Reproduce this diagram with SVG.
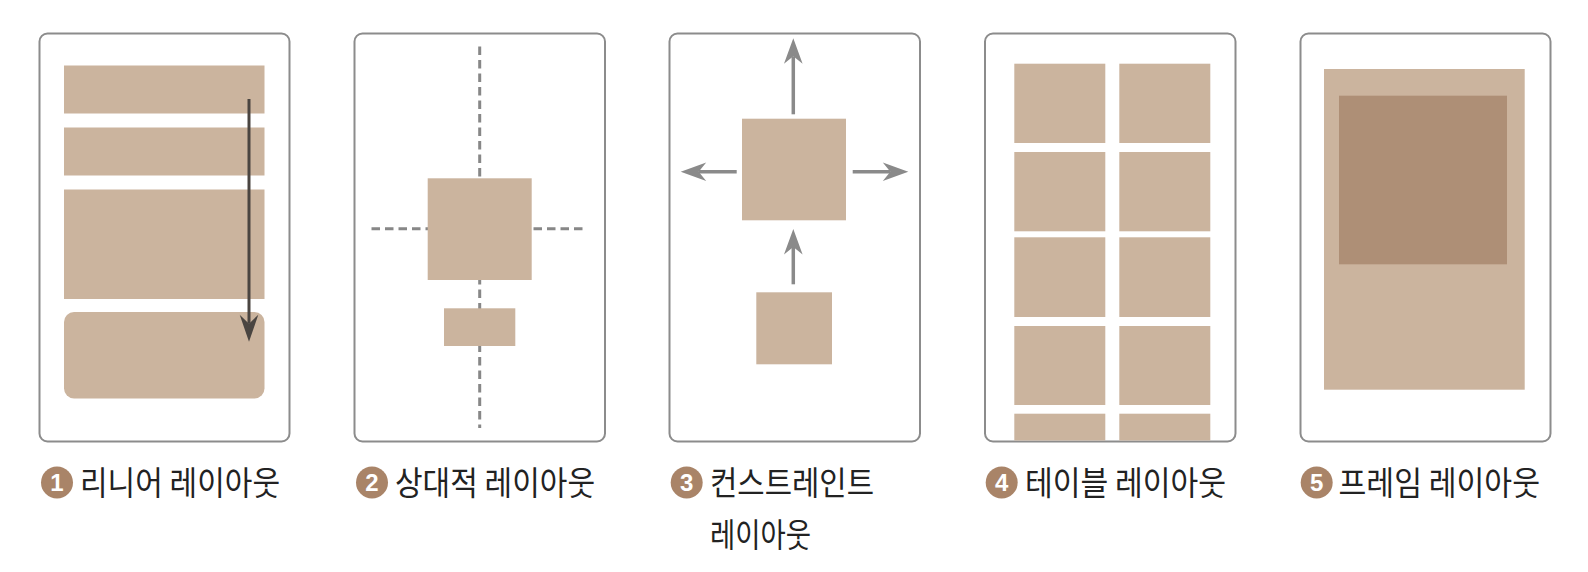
<svg xmlns="http://www.w3.org/2000/svg" width="1588" height="572" viewBox="0 0 1588 572">
<style>
.frame{fill:#fff;stroke:#8c8c8c;stroke-width:2}
.blk{fill:#cbb49e}
.dark{fill:#ae8f76}
.dash{stroke:#878787;stroke-width:3;stroke-dasharray:8.5 5;fill:none}
.garr{stroke:#8a8a8a;stroke-width:3.5;fill:none}
.darr{stroke:#4a4541;stroke-width:3;fill:none}
.num{fill:#a98468}
.numt{font-family:"Liberation Sans",Arial,sans-serif;font-weight:bold;font-size:24px;fill:#fff;text-anchor:middle}
.lbl{font-family:"Noto Sans CJK KR","Noto Sans",sans-serif;font-size:33px;fill:#222}
</style>
<defs>
<marker id="gh" markerUnits="userSpaceOnUse" viewBox="-26 -10 27 20" markerWidth="27" markerHeight="20" refX="-18" refY="0" orient="auto">
<path d="M0,0 L-25.5,-9.3 L-18,0 L-25.5,9.3 Z" fill="#8a8a8a"/>
</marker>
<marker id="dh" markerUnits="userSpaceOnUse" viewBox="-28 -10 29 20" markerWidth="29" markerHeight="20" refX="-18" refY="0" orient="auto">
<path d="M0,0 L-27,-9.3 L-18,0 L-27,9.3 Z" fill="#4a4541"/>
</marker>
</defs>
<rect width="1588" height="572" fill="#fff"/>

<g id="panel1">
<rect class="frame" x="39.5" y="33.5" width="250" height="408" rx="8"/>
<rect class="blk" x="64" y="65.5" width="200.5" height="48"/>
<rect class="blk" x="64" y="127.5" width="200.5" height="48"/>
<rect class="blk" x="64" y="189.5" width="200.5" height="109.5"/>
<rect class="blk" x="64" y="312" width="200.5" height="86.5" rx="10"/>
</g>

<g id="panel2">
<rect class="frame" x="354.5" y="33.5" width="250.5" height="408" rx="8"/>
<line class="dash" x1="479.7" y1="46.5" x2="479.7" y2="428"/>
<line class="dash" x1="371.5" y1="228.7" x2="587.5" y2="228.7"/>
<rect class="blk" x="427.7" y="178.3" width="104" height="101.7"/>
<rect class="blk" x="444" y="308.3" width="71.3" height="37.7"/>
</g>

<g id="panel3">
<rect class="frame" x="669.5" y="33.5" width="250.5" height="408" rx="8"/>
<rect class="blk" x="742" y="118.7" width="104" height="101.6"/>
<rect class="blk" x="756.3" y="292.3" width="75.7" height="72"/>
</g>

<g id="panel4">
<rect class="frame" x="985" y="33.5" width="250.5" height="408" rx="8"/>
<rect class="blk" x="1014.3" y="63.7" width="91" height="79.3"/>
<rect class="blk" x="1119.3" y="63.7" width="91" height="79.3"/>
<rect class="blk" x="1014.3" y="152" width="91" height="79.3"/>
<rect class="blk" x="1119.3" y="152" width="91" height="79.3"/>
<rect class="blk" x="1014.3" y="237.3" width="91" height="79.7"/>
<rect class="blk" x="1119.3" y="237.3" width="91" height="79.7"/>
<rect class="blk" x="1014.3" y="326" width="91" height="79"/>
<rect class="blk" x="1119.3" y="326" width="91" height="79"/>
<rect class="blk" x="1014.3" y="413.7" width="91" height="26.8"/>
<rect class="blk" x="1119.3" y="413.7" width="91" height="26.8"/>
</g>

<g id="panel5">
<rect class="frame" x="1300.5" y="33.5" width="250" height="408" rx="8"/>
<rect class="blk" x="1324" y="69" width="200.7" height="320.7"/>
<rect class="dark" x="1339" y="95.7" width="168" height="168.6"/>
</g>

<g id="connectors">
<line class="darr" x1="249" y1="99" x2="249" y2="323.7" marker-end="url(#dh)"/>
<line class="garr" x1="793.3" y1="114.3" x2="793.3" y2="56.3" marker-end="url(#gh)"/>
<line class="garr" x1="736.7" y1="171.7" x2="698.7" y2="171.7" marker-end="url(#gh)"/>
<line class="garr" x1="852.7" y1="171.7" x2="890.3" y2="171.7" marker-end="url(#gh)"/>
<line class="garr" x1="793.3" y1="284.3" x2="793.3" y2="247" marker-end="url(#gh)"/>
</g>

<g id="label1">
<circle class="num" cx="57" cy="482.5" r="16"/>
<text class="numt" x="57" y="491">1</text>
<text class="lbl" x="80" y="495" textLength="200" lengthAdjust="spacingAndGlyphs">리니어 레이아웃</text>
</g>
<g id="label2">
<circle class="num" cx="372" cy="482.5" r="16"/>
<text class="numt" x="372" y="491">2</text>
<text class="lbl" x="395" y="495" textLength="200" lengthAdjust="spacingAndGlyphs">상대적 레이아웃</text>
</g>
<g id="label3">
<circle class="num" cx="686.7" cy="482.5" r="16"/>
<text class="numt" x="686.7" y="491">3</text>
<text class="lbl" x="710" y="495" textLength="164" lengthAdjust="spacingAndGlyphs">컨스트레인트</text>
<text class="lbl" x="710" y="547" textLength="101" lengthAdjust="spacingAndGlyphs">레이아웃</text>
</g>
<g id="label4">
<circle class="num" cx="1001.7" cy="482.5" r="16"/>
<text class="numt" x="1001.7" y="491">4</text>
<text class="lbl" x="1025" y="495" textLength="201" lengthAdjust="spacingAndGlyphs">테이블 레이아웃</text>
</g>
<g id="label5">
<circle class="num" cx="1316.7" cy="482.5" r="16"/>
<text class="numt" x="1316.7" y="491">5</text>
<text class="lbl" x="1338.5" y="495" textLength="201.5" lengthAdjust="spacingAndGlyphs">프레임 레이아웃</text>
</g>
</svg>
